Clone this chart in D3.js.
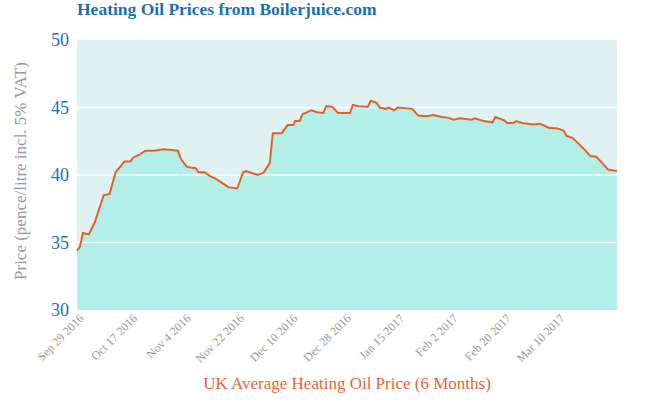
<!DOCTYPE html>
<html>
<head>
<meta charset="utf-8">
<script src="https://cdn.jsdelivr.net/npm/d3@7"></script>
<style>
  body { margin: 0; background: #fff; }
  text { font-family: "Liberation Serif", "DejaVu Serif", serif; }
</style>
</head>
<body>
<svg id="chart" width="660" height="400"></svg>
<script>
const startDate = new Date(2016, 8, 29)
// days since Sep 29 2016
const dayOffsets = [0,1,2,4,6,9,11,13,16,18,19,21,23,26,29,32,34,35,37,40,41,43,45,47,49,51,54,56,57,61,63,65,66,69,71,73,73.5,75,76,79,81,83,84,86,88,92,93,95,98,99,101,102,104,105,107,108,113,115,118,120,123,125,127,129,133,134,137,140,141,144,145,147,148,150,154,156,159,162,164,165,167,171,173,175,177,179,182]
const prices = [34.4,34.7,35.7,35.6,36.5,38.5,38.6,40.2,41.0,41.0,41.3,41.5,41.8,41.8,41.9,41.85,41.8,41.2,40.6,40.5,40.2,40.2,39.9,39.7,39.4,39.1,39.0,40.2,40.3,40.0,40.2,40.9,43.1,43.1,43.7,43.7,44.0,44.0,44.5,44.8,44.65,44.6,45.1,45.05,44.6,44.6,45.2,45.1,45.05,45.5,45.35,45.0,44.9,45.0,44.8,45.0,44.9,44.4,44.35,44.45,44.3,44.25,44.1,44.2,44.1,44.2,44.0,43.9,44.3,44.05,43.85,43.85,44.0,43.85,43.75,43.8,43.5,43.45,43.3,42.9,42.75,41.9,41.4,41.35,40.9,40.4,40.3]
const yTicks = [30, 35, 40, 45, 50]
const tickDates = [0,18,36,54,72,90,108,126,144,162].map(d => d3.timeDay.offset(startDate, d))

const MARGIN = {top: 40, right: 43, bottom: 90, left: 77}
const WIDTH = 660, HEIGHT = 400
const innerW = WIDTH - MARGIN.left - MARGIN.right
const innerH = HEIGHT - MARGIN.top - MARGIN.bottom

const data = dayOffsets.map((d, i) => ({date: new Date(startDate.getTime() + d * 864e5), price: prices[i]}))

const svg = d3.select('#chart')
const g = svg.append('g').attr('transform', `translate(${MARGIN.left},${MARGIN.top})`)

const xScale = d3.scaleTime()
    .domain([startDate, d3.timeDay.offset(startDate, 182)])
    .range([0, innerW])
const yScale = d3.scaleLinear().domain([30, 50]).range([innerH, 0])

g.append('rect').attr('width', innerW).attr('height', innerH).attr('fill', '#dff2f1')

g.append('path').datum(data)
    .attr('fill', '#b2efe9')
    .attr('d', d3.area().x(d => xScale(d.date)).y0(innerH).y1(d => yScale(d.price)))

g.selectAll('.grid').data(yTicks.slice(1, -1)).join('line')
    .attr('x1', 0).attr('x2', innerW)
    .attr('y1', d => yScale(d)).attr('y2', d => yScale(d))
    .attr('stroke', '#fff').attr('stroke-width', 1.5).attr('opacity', 0.85)

g.append('path').datum(data)
    .attr('fill', 'none').attr('stroke', '#e2622e').attr('stroke-width', 2)
    .attr('d', d3.line().x(d => xScale(d.date)).y(d => yScale(d.price)))

const yAxis = g.append('g').call(d3.axisLeft(yScale).tickValues(yTicks).tickSize(0).tickPadding(8))
yAxis.select('.domain').remove()
yAxis.selectAll('text').attr('fill', '#1a72b8').style('font-size', '18px')

const fmt = d3.timeFormat('%b %-d %Y')
const xAxis = g.append('g').attr('transform', `translate(0,${innerH})`)
    .call(d3.axisBottom(xScale).tickValues(tickDates).tickFormat(fmt).tickSize(0))
xAxis.select('.domain').remove()
xAxis.selectAll('text')
    .attr('fill', '#999').style('font-size', '12px')
    .attr('text-anchor', 'end')
    .attr('transform', 'translate(2,4) rotate(-45)')
    .attr('dy', '0.35em')

svg.append('text').attr('x', 77).attr('y', 15)
    .attr('fill', '#1a6fb5').style('font-size', '17.5px').style('font-weight', 'bold')
    .text('Heating Oil Prices from Boilerjuice.com')

svg.append('text')
    .attr('transform', `translate(26,${MARGIN.top + innerH / 2 - 4}) rotate(-90)`)
    .attr('text-anchor', 'middle').attr('fill', '#999').style('font-size', '17px')
    .text('Price (pence/litre incl. 5% VAT)')

svg.append('text').attr('x', 347).attr('y', 389).attr('text-anchor', 'middle')
    .attr('fill', '#e9643a').style('font-size', '17px')
    .text('UK Average Heating Oil Price (6 Months)')
</script>
</body>
</html>
